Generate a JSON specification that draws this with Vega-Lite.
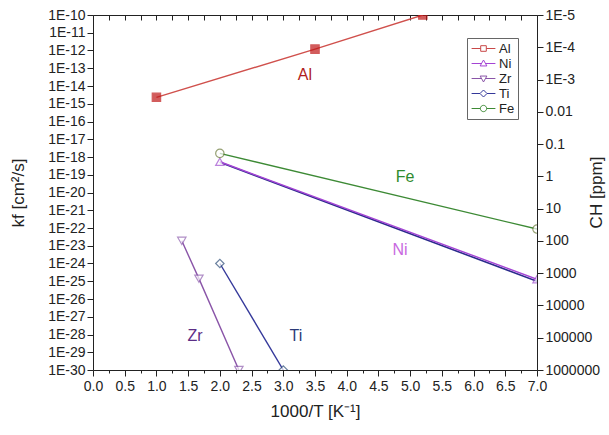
{
  "$schema": "https://vega.github.io/schema/vega-lite/v6.json",
  "width": 444,
  "height": 355,
  "autosize": "none",
  "padding": {"left": 93, "top": 15, "right": 72, "bottom": 65},
  "background": "white",
  "config": {
    "font": "Liberation Sans",
    "view": {"stroke": null},
    "axis": {"labelFontSize": 14, "labelColor": "#222", "titleFontSize": 17, "titleFontWeight": "normal", "titleColor": "#222", "domainColor": "#222", "tickColor": "#222", "grid": false, "labelFont": "Liberation Sans", "titleFont": "Liberation Sans"}
  },
  "datasets": {
    "series": [
      {"series": "Al", "x": 1.0, "k": 2.3e-15},
      {"series": "Al", "x": 3.5, "k": 1.2e-12},
      {"series": "Al", "x": 5.2, "k": 1.0e-10},
      {"series": "Ni", "x": 2.0, "k": 5.4e-19},
      {"series": "Ni", "x": 7.0, "k": 1.3e-25},
      {"series": "Zr", "x": 1.4, "k": 1.9e-23},
      {"series": "Zr", "x": 1.67, "k": 1.4e-25},
      {"series": "Zr", "x": 2.3, "k": 1.0e-30},
      {"series": "Ti", "x": 2.0, "k": 1.0e-24},
      {"series": "Ti", "x": 3.0, "k": 1.0e-30},
      {"series": "Fe", "x": 2.0, "k": 1.6e-18},
      {"series": "Fe", "x": 7.0, "k": 8.7e-23}
    ],
    "ni2": [
      {"x": 2.0, "k": 5.0e-19},
      {"x": 7.0, "k": 1.0e-25}
    ],
    "labels": [
      {"series": "Al", "x": 3.34, "k": 4.0e-14},
      {"series": "Fe", "x": 4.92, "k": 7.4e-20},
      {"series": "Ni", "x": 4.84, "k": 5.8e-24},
      {"series": "Zr", "x": 1.61, "k": 8.3e-29},
      {"series": "Ti", "x": 3.2, "k": 8.3e-29}
    ],
    "ch": [{"ch": 1e-5}, {"ch": 1e6}]
  },
  "layer": [
    {
      "layer": [
        {
          "data": {"name": "ni2"},
          "mark": {"type": "line", "color": "#2b2b8c", "strokeWidth": 1.6, "clip": true},
          "encoding": {
            "x": {"field": "x", "type": "quantitative", "scale": {"domain": [0, 7], "nice": false}, "axis": null},
            "y": {"field": "k", "type": "quantitative", "title": "kf [cm²/s]", "scale": {"type": "log", "domain": [1e-30, 1e-10], "nice": false}}
          }
        },
        {
          "data": {"name": "series"},
          "mark": {"type": "line", "strokeWidth": 1.4, "clip": true},
          "encoding": {
            "x": {"field": "x", "type": "quantitative", "scale": {"domain": [0, 7], "nice": false},
              "axis": {"orient": "bottom", "values": [0, 0.5, 1, 1.5, 2, 2.5, 3, 3.5, 4, 4.5, 5, 5.5, 6, 6.5, 7], "format": ".1f", "tickSize": 6, "labelPadding": 3, "title": "1000/T [K⁻¹]", "titlePadding": 10, "labelFlush": false}},
            "y": {"field": "k", "type": "quantitative", "title": "kf [cm²/s]", "scale": {"type": "log", "domain": [1e-30, 1e-10], "nice": false},
              "axis": {"orient": "left", "values": [1e-30, 1e-29, 1e-28, 1e-27, 1e-26, 1e-25, 1e-24, 1e-23, 1e-22, 1e-21, 1e-20, 1e-19, 1e-18, 1e-17, 1e-16, 1e-15, 1e-14, 1e-13, 1e-12, 1e-11, 1e-10], "labelExpr": "'1E' + round(log(datum.value)/LN10)", "tickSize": 6, "labelPadding": 2, "titleX": -66, "labelFlush": false}},
            "color": {"field": "series", "type": "nominal", "legend": null,
              "scale": {"domain": ["Al", "Ni", "Zr", "Ti", "Fe"], "range": ["#d0504c", "#a444d4", "#8a55a8", "#34389a", "#3d8a35"]}}
          }
        },
        {
          "data": {"name": "series"},
          "mark": {"type": "point", "filled": true, "size": 70, "strokeWidth": 1.2, "clip": true},
          "encoding": {
            "x": {"field": "x", "type": "quantitative", "scale": {"domain": [0, 7], "nice": false},
              "axis": {"orient": "top", "values": [0, 0.25, 0.5, 0.75, 1, 1.25, 1.5, 1.75, 2, 2.25, 2.5, 2.75, 3, 3.25, 3.5, 3.75, 4, 4.25, 4.5, 4.75, 5, 5.25, 5.5, 5.75, 6, 6.25, 6.5, 6.75, 7], "labels": false, "tickSize": -5, "title": null}},
            "y": {"field": "k", "type": "quantitative", "title": "kf [cm²/s]", "scale": {"type": "log", "domain": [1e-30, 1e-10], "nice": false}},
            "shape": {"field": "series", "type": "nominal", "legend": null,
              "scale": {"domain": ["Al", "Ni", "Zr", "Ti", "Fe"], "range": ["square", "triangle-up", "triangle-down", "diamond", "circle"]}},
            "stroke": {"field": "series", "type": "nominal", "legend": null,
              "scale": {"domain": ["Al", "Ni", "Zr", "Ti", "Fe"], "range": ["#c01818", "#a050d0", "#9060b0", "#2f4f7a", "#6b7a3a"]}},
            "fill": {"field": "series", "type": "nominal", "legend": null,
              "scale": {"domain": ["Al", "Ni", "Zr", "Ti", "Fe"], "range": ["#c01818", "white", "white", "white", "white"]}}
          }
        },
        {
          "data": {"name": "series"},
          "mark": {"type": "point", "filled": false, "opacity": 0, "strokeWidth": 1},
          "encoding": {
            "x": {"field": "x", "type": "quantitative", "scale": {"domain": [0, 7], "nice": false},
              "axis": {"orient": "bottom", "values": [0.25, 0.75, 1.25, 1.75, 2.25, 2.75, 3.25, 3.75, 4.25, 4.75, 5.25, 5.75, 6.25, 6.75], "labels": false, "domain": false, "tickSize": 3, "title": null}},
            "y": {"field": "k", "type": "quantitative", "title": "kf [cm²/s]", "scale": {"type": "log", "domain": [1e-30, 1e-10], "nice": false}},
            "shape": {"field": "series", "type": "nominal",
              "scale": {"domain": ["Al", "Ni", "Zr", "Ti", "Fe"], "range": [
                "M-1.7,0H-0.4M0.4,0H1.7M-0.4,-0.4H0.4V0.4H-0.4Z",
                "M-1.7,0H-0.3M0.3,0H1.7M0,-0.5L0.48,0.35H-0.48Z",
                "M-1.7,0H-0.3M0.3,0H1.7M0,0.5L0.48,-0.35H-0.48Z",
                "M-1.7,0H-0.5M0.5,0H1.7M0,-0.5L0.5,0L0,0.5L-0.5,0Z",
                "M-1.7,0H-0.45M0.45,0H1.7M0.45,0A0.45,0.45,0,1,1,-0.45,0A0.45,0.45,0,1,1,0.45,0Z"]}},
            "color": {"field": "series", "type": "nominal",
              "scale": {"domain": ["Al", "Ni", "Zr", "Ti", "Fe"], "range": ["#c84848", "#a444d4", "#8a55a8", "#34389a", "#3d8a35"]},
              "legend": {"title": null, "orient": "none", "legendX": 374, "legendY": 23, "symbolSize": 196, "symbolStrokeWidth": 1, "symbolOffset": 6, "labelOffset": 8, "labelFontSize": 13, "labelColor": "#222", "padding": 3, "rowPadding": 0, "strokeColor": "#666", "fillColor": "white"}}
          }
        },
        {
          "data": {"name": "labels"},
          "mark": {"type": "text", "fontSize": 16, "align": "center", "baseline": "middle", "font": "Liberation Sans"},
          "encoding": {
            "x": {"field": "x", "type": "quantitative", "scale": {"domain": [0, 7], "nice": false}, "axis": null},
            "y": {"field": "k", "type": "quantitative", "title": "kf [cm²/s]", "scale": {"type": "log", "domain": [1e-30, 1e-10], "nice": false}},
            "text": {"field": "series", "type": "nominal"},
            "color": {"field": "series", "type": "nominal", "legend": null,
              "scale": {"domain": ["Al", "Ni", "Zr", "Ti", "Fe"], "range": ["#b01c1c", "#c868e0", "#5c2e86", "#2a3a78", "#2e8b2e"]}}
          }
        }
      ],
      "resolve": {"scale": {"color": "independent", "shape": "independent", "fill": "independent", "stroke": "independent"}, "axis": {"x": "independent"}}
    },
    {
      "data": {"name": "ch"},
      "mark": {"type": "rule", "opacity": 0},
      "encoding": {
        "y": {"field": "ch", "type": "quantitative", "scale": {"type": "log", "domain": [1e-5, 1e6], "reverse": true, "nice": false},
          "axis": {"orient": "right", "values": [1e-5, 1e-4, 1e-3, 0.01, 0.1, 1, 10, 100, 1000, 10000, 100000, 1000000],
            "labelExpr": "datum.value < 0.005 ? '1E' + round(log(datum.value)/LN10) : datum.value < 1 ? format(datum.value, '.2~f') : format(datum.value, 'd')",
            "tickSize": 6, "labelPadding": 2, "title": "CH [ppm]", "titleAngle": 270, "titleX": 59, "titleY": 177, "titleAlign": "center", "titleBaseline": "middle", "labelFlush": false}}
      }
    }
  ],
  "resolve": {"scale": {"y": "independent"}}
}
